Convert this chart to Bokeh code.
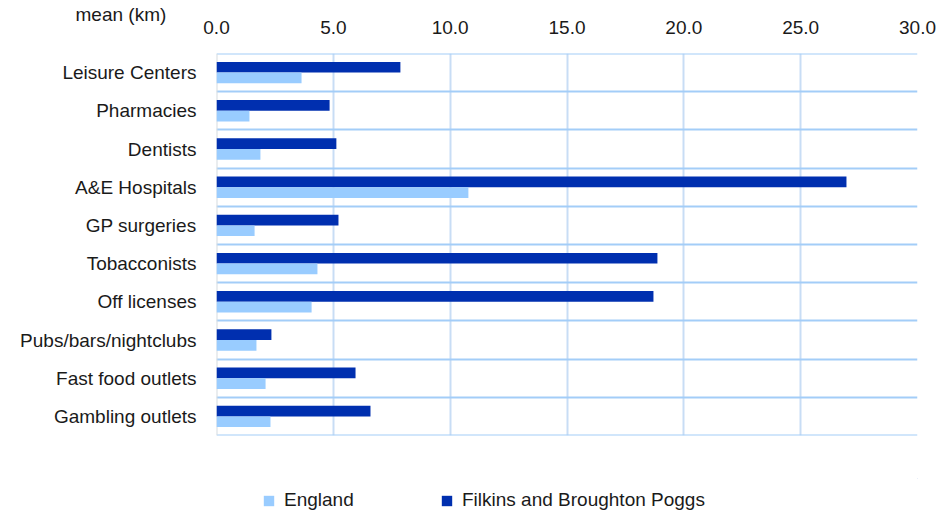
from bokeh.plotting import figure
from bokeh.layouts import column
from bokeh.models import (ColumnDataSource, FactorRange, Range1d, FixedTicker,
                          PrintfTickFormatter, Legend, LegendItem, Title)
from bokeh.transform import dodge
from bokeh.embed import file_html
from bokeh.resources import INLINE

# ---- data (top to bottom as in the chart) ----
categories = ["Leisure Centers", "Pharmacies", "Dentists", "A&E Hospitals", "GP surgeries",
              "Tobacconists", "Off licenses", "Pubs/bars/nightclubs", "Fast food outlets",
              "Gambling outlets"]
england = [3.64, 1.41, 1.88, 10.78, 1.63, 4.32, 4.07, 1.71, 2.10, 2.31]
filkins = [7.87, 4.84, 5.13, 26.96, 5.22, 18.87, 18.70, 2.35, 5.95, 6.59]
x_ticks = [0, 5, 10, 15, 20, 25, 30]
series_names = ["England", "Filkins and Broughton Poggs"]
axis_title = "mean (km)"

LIGHT = "#99CCFF"
DARK = "#002FAF"
FONT = "Liberation Sans"
FS = "19px"

factors = list(reversed(categories))
src = ColumnDataSource(dict(cat=categories, england=england, filkins=filkins))

p = figure(width=937, height=478, output_backend="svg", toolbar_location=None,
           y_range=FactorRange(*factors, range_padding=0),
           x_range=Range1d(0, 30), x_axis_location="above",
           min_border_left=216, min_border_right=20, min_border_top=53,
           min_border_bottom=43)
p.outline_line_color = None
p.background_fill_color = "white"

# grid
p.ygrid.grid_line_color = None
p.xgrid.ticker = FixedTicker(ticks=x_ticks)
p.xgrid.grid_line_color = "#c8ddf5"
p.xgrid.grid_line_width = 2
p.hspan(y=list(range(len(categories) + 1)), line_color="#a3cdf8", line_width=2)
p.vspan(x=[x_ticks[0]], line_color="#d6dbe0", line_width=2)

p.hbar(y=dodge("cat", 0.14, range=p.y_range), right="filkins", left=0,
       height=0.28, source=src, fill_color=DARK, line_color=None)
p.hbar(y=dodge("cat", -0.14, range=p.y_range), right="england", left=0,
       height=0.28, source=src, fill_color=LIGHT, line_color=None)

# axes
for ax in (p.xaxis[0], p.yaxis[0]):
    ax.axis_line_color = None
    ax.major_tick_line_color = None
    ax.minor_tick_line_color = None
    ax.major_tick_out = 0
    ax.major_tick_in = 0
    ax.major_label_text_font = FONT
    ax.major_label_text_font_size = FS
    ax.major_label_text_color = "#1a1a1a"
p.xaxis.ticker = FixedTicker(ticks=x_ticks)
p.xaxis.formatter = PrintfTickFormatter(format="%.1f")
p.xaxis.major_label_standoff = 20
p.yaxis.major_label_standoff = 20

p.add_layout(Title(text=axis_title, align="left", offset=-141, standoff=-14,
                   text_font=FONT, text_font_size=FS, text_font_style="normal",
                   text_color="#1a1a1a"), "above")

# legend strip below the chart (its frame is aligned with the chart's frame)
lp = figure(width=937, height=34, output_backend="svg", toolbar_location=None,
            x_range=Range1d(0, 1), y_range=Range1d(0, 1),
            x_axis_type=None, y_axis_type=None, min_border=0)
lp.outline_line_color = None
lp.grid.visible = False
# swatch renderers kept entirely outside the visible ranges
lg_light = lp.hbar(y=[50], left=[40], right=[41], height=0.1, fill_color=LIGHT, line_color=None)
lg_dark = lp.hbar(y=[50], left=[40], right=[41], height=0.1, fill_color=DARK, line_color=None)
legend = Legend(items=[LegendItem(label=series_names[0], renderers=[lg_light]),
                       LegendItem(label=series_names[1], renderers=[lg_dark])],
                orientation="horizontal", location=(46, 1),
                glyph_width=13, glyph_height=13, label_standoff=9,
                label_width=156, spacing=0, padding=0, margin=0,
                border_line_color=None, background_fill_alpha=0,
                label_text_font=FONT, label_text_font_size=FS,
                label_text_color="#1a1a1a")
lp.add_layout(legend, "center")

layout = column(p, lp, spacing=0)
open("out.html", "w").write(file_html(layout, INLINE))
